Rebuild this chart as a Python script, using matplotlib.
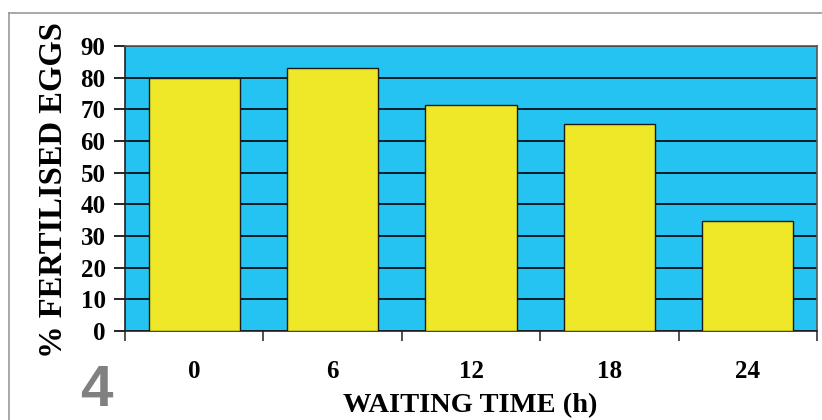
import matplotlib
matplotlib.use("Agg")
import matplotlib.pyplot as plt
from matplotlib.lines import Line2D

# Data
waiting_hours = ["0", "6", "12", "18", "24"]
fertilised_pct = [80, 83, 71.3, 65.4, 34.8]
y_ticks = [0, 10, 20, 30, 40, 50, 60, 70, 80, 90]

W, H = 822, 420
fig = plt.figure(figsize=(W / 100, H / 100), dpi=100)
fig.patch.set_facecolor("white")

# Thin grey frame around the slide panel
fig.add_artist(Line2D([9 / W, 9 / W], [0, 1 - 12.5 / H], transform=fig.transFigure,
                      color="#9a9a9a", lw=1.2))
fig.add_artist(Line2D([9 / W, 1], [1 - 12.5 / H, 1 - 12.5 / H], transform=fig.transFigure,
                      color="#9a9a9a", lw=1.2))

left, right, top, bottom = 125, 817, 46, 331
ax = fig.add_axes([left / W, (H - bottom) / H, (right - left) / W, (bottom - top) / H])
ax.set_facecolor("#24C3F1")

x = range(len(waiting_hours))
ax.bar(x, fertilised_pct, width=0.66, color="#EEE828", edgecolor="#1a1a1a",
       linewidth=1.0, zorder=3)

ax.set_xlim(-0.5, len(waiting_hours) - 0.5)
ax.set_ylim(0, 90)
ax.set_yticks(y_ticks)
ax.yaxis.grid(True, color="black", linewidth=1.2, zorder=1)
ax.set_axisbelow(True)

# Category ticks sit between the bars
ax.set_xticks([i - 0.5 for i in range(len(waiting_hours) + 1)])
ax.set_xticklabels([])
ax.set_xticks(list(x), minor=True)
ax.set_xticklabels(waiting_hours, minor=True)
ax.tick_params(axis="x", which="major", direction="out", length=7, width=1.2, color="#333333")
ax.tick_params(axis="x", which="minor", length=0, pad=21)
ax.tick_params(axis="y", direction="out", length=8, width=1.2, color="black", pad=6)

for lab in ax.get_yticklabels() + ax.get_xticklabels(minor=True):
    lab.set_fontfamily("Liberation Serif")
    lab.set_fontweight("bold")
    lab.set_fontsize(18)

for side in ["left", "bottom"]:
    ax.spines[side].set_color("#222222")
    ax.spines[side].set_linewidth(1.2)
for side in ["top", "right"]:
    ax.spines[side].set_color("#555555")
    ax.spines[side].set_linewidth(1.2)

fig.text(54 / W, 1 - 190 / H, "% FERTILISED EGGS", rotation=90, ha="center", va="center",
         fontfamily="Liberation Serif", fontweight="bold", fontsize=23.5)
fig.text(470 / W, 1 - 406 / H, "WAITING TIME (h)", ha="center", va="center",
         fontfamily="Liberation Serif", fontweight="bold", fontsize=20.5)

fig.text(96 / W, 1 - 391 / H, "4", ha="center", va="center", color="#808080",
         fontfamily="Liberation Sans", fontweight="bold", fontsize=42)

fig.savefig("out.png", dpi=100)
